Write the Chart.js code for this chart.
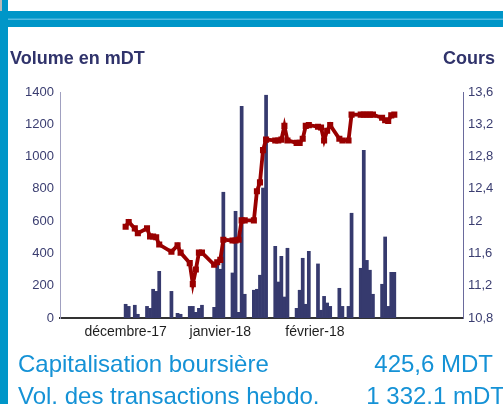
<!DOCTYPE html>
<html>
<head>
<meta charset="utf-8">
<script src="https://cdn.jsdelivr.net/npm/chart.js@4.4.1/dist/chart.umd.min.js"></script>
<style>
html,body{margin:0;padding:0;background:#fff;}
#wrap{position:relative;width:503px;height:404px;overflow:hidden;background:#fff;}
#c{position:absolute;left:0;top:0;}
#deco{position:absolute;left:0;top:0;}
</style>
</head>
<body>
<div id="wrap">
<canvas id="c" width="503" height="404"></canvas>
<svg id="deco" width="503" height="404" xmlns="http://www.w3.org/2000/svg">
  <rect x="0" y="0" width="8" height="404" fill="#0096c8"/>
  <rect x="0" y="0" width="2" height="11" fill="#b8b8b8"/>
  <rect x="0" y="11" width="503" height="16" fill="#0096c8"/>
  <rect x="8" y="18.5" width="495" height="1.5" fill="#55b9e0"/>
  <text x="10" y="64" font-family="Liberation Sans, Arial, sans-serif" font-weight="bold" font-size="18" fill="#30336b">Volume en mDT</text>
  <text x="495" y="64" text-anchor="end" font-family="Liberation Sans, Arial, sans-serif" font-weight="bold" font-size="18" fill="#30336b">Cours</text>
  <text x="18" y="372" font-family="Liberation Sans, Arial, sans-serif" font-size="24" fill="#1592d6">Capitalisation boursière</text>
  <text x="493" y="372" text-anchor="end" font-family="Liberation Sans, Arial, sans-serif" font-size="24" fill="#1592d6">425,6 MDT</text>
  <text x="18" y="404" font-family="Liberation Sans, Arial, sans-serif" font-size="24" fill="#1592d6">Vol. des transactions hebdo.</text>
  <text x="505" y="404" text-anchor="end" font-family="Liberation Sans, Arial, sans-serif" font-size="24" fill="#1592d6">1 332,1 mDT</text>
</svg>
</div>
<script>
// ---- data ----
const calendarStart = '2017-11-13';
const calendarDays = 132;

const tradeDates = [
  '2017-12-04','2017-12-05','2017-12-07','2017-12-08',
  '2017-12-11','2017-12-12','2017-12-13','2017-12-14','2017-12-15',
  '2017-12-19','2017-12-21','2017-12-22',
  '2017-12-25','2017-12-26','2017-12-27','2017-12-28','2017-12-29',
  '2018-01-02','2018-01-03','2018-01-04','2018-01-05',
  '2018-01-08','2018-01-09','2018-01-10','2018-01-11','2018-01-12',
  '2018-01-15','2018-01-16','2018-01-17','2018-01-18','2018-01-19',
  '2018-01-22','2018-01-23','2018-01-24','2018-01-25','2018-01-26',
  '2018-01-29','2018-01-30','2018-01-31','2018-02-01','2018-02-02',
  '2018-02-05','2018-02-06','2018-02-07','2018-02-08','2018-02-09',
  '2018-02-12','2018-02-13','2018-02-15','2018-02-16',
  '2018-02-19','2018-02-20','2018-02-21','2018-02-22','2018-02-23',
  '2018-02-26','2018-02-27','2018-02-28','2018-03-01','2018-03-02'
];

const volumes = [
  85, 72, 79, 23,
  72, 60, 178, 165, 289,
  165, 29, 23,
  72, 72, 35, 60, 79,
  66, 339, 302, 779,
  279, 661, 35, 1311, 147,
  172, 178, 265, 805, 1380,
  444, 223, 382, 130, 432,
  60, 172, 370, 85, 413,
  335, 48, 134, 93, 72,
  184, 72, 72, 649,
  308, 1039, 357, 296, 147,
  209, 502, 72, 283, 283
];

const prices = [
  11.93, 11.99, 11.91, 11.85,
  11.91, 11.81, 11.81, 11.80, 11.71,
  11.62, 11.70, 11.61,
  11.48, 11.22, 11.40, 11.61, 11.61,
  11.46, 11.49, 11.52, 11.77,
  11.76, 11.76, 11.77, 12.01, 12.01,
  12.01, 12.37, 12.48, 12.88, 13.01,
  13.00, 13.00, 13.01, 13.18, 13.00,
  12.97, 12.97, 13.02, 13.18, 13.19,
  13.17, 13.16, 13.00, 13.12, 13.19,
  13.02, 13.00, 13.00, 13.32,
  13.32, 13.32, 13.32, 13.32, 13.32,
  13.28, 13.25, 13.24, 13.31, 13.32
];

const monthTickDates = ['2017-12-04', '2018-01-04', '2018-02-04'];
const monthTickLabels = ['décembre-17', 'janvier-18', 'février-18'];

// ---- build calendar axis ----
function fmt(d){
  const m = String(d.getUTCMonth()+1).padStart(2,'0');
  const day = String(d.getUTCDate()).padStart(2,'0');
  return d.getUTCFullYear() + '-' + m + '-' + day;
}
const days = [];
{
  const start = new Date(calendarStart + 'T00:00:00Z');
  for (let i = 0; i < calendarDays; i++) {
    const d = new Date(start.getTime() + i * 86400000);
    days.push(fmt(d));
  }
}
const volByDay = days.map(d => { const k = tradeDates.indexOf(d); return k >= 0 ? volumes[k] : null; });
const priceByDay = days.map(d => { const k = tradeDates.indexOf(d); return k >= 0 ? prices[k] : null; });

const FONT = 'Liberation Sans, Arial, sans-serif';
const tickColor = '#3a3d70';

new Chart(document.getElementById('c'), {
  type: 'bar',
  data: {
    labels: days,
    datasets: [
      {
        type: 'line',
        label: 'Cours',
        data: priceByDay,
        yAxisID: 'y2',
        borderColor: '#990000',
        borderWidth: 3.8,
        pointStyle: 'rect',
        pointRadius: 4.3,
        pointBackgroundColor: '#990000',
        pointBorderColor: '#990000',
        pointBorderWidth: 0,
        spanGaps: true,
        tension: 0,
        order: 0
      },
      {
        type: 'bar',
        label: 'Volume',
        data: volByDay,
        yAxisID: 'y',
        backgroundColor: '#363a6e',
        borderWidth: 0,
        barPercentage: 1,
        categoryPercentage: 1,
        order: 1
      }
    ]
  },
  options: {
    responsive: false,
    animation: false,
    devicePixelRatio: 1,
    layout: { padding: { top: 92, left: 0, right: 0, bottom: 0 } },
    plugins: { legend: { display: false }, tooltip: { enabled: false } },
    scales: {
      x: {
        grid: { display: false, drawTicks: false },
        border: { display: true, color: '#333333', width: 2 },
        ticks: {
          autoSkip: false, maxRotation: 0, minRotation: 0,
          color: '#1e1e1e', font: { family: FONT, size: 14 }, padding: 6,
          callback: function(v, i) {
            const j = monthTickDates.indexOf(days[i]);
            return j >= 0 ? monthTickLabels[j] : '';
          }
        },
        afterFit: function(s) { s.height = 86; }
      },
      y: {
        position: 'left', min: 0, max: 1400,
        grid: { display: false, drawTicks: false },
        border: { display: true, color: '#a0a0c0', width: 1 },
        ticks: {
          stepSize: 200, color: tickColor, font: { family: FONT, size: 13 }, padding: 6,
          callback: function(v) { return String(v); }
        },
        afterFit: function(s) { s.width = 60; }
      },
      y2: {
        position: 'right', min: 10.8, max: 13.6,
        grid: { display: false, drawTicks: false },
        border: { display: true, color: '#6a6a9c', width: 1 },
        ticks: {
          stepSize: 0.4, color: tickColor, font: { family: FONT, size: 13 }, padding: 5,
          callback: function(v) { return String(Math.round(v * 10) / 10).replace('.', ','); }
        },
        afterFit: function(s) { s.width = 40; }
      }
    }
  }
});
</script>
</body>
</html>
